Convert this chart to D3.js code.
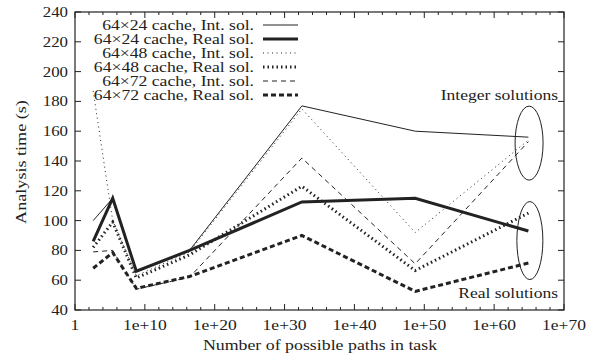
<!DOCTYPE html>
<html><head><meta charset="utf-8">
<script src="https://cdn.jsdelivr.net/npm/d3@7"></script>
</head><body style="margin:0">
<svg id="c" width="595" height="359"></svg>
<script>
// Data
const paths = [4e2, 2.5e5, 6e8, 2.5e16, 3e32, 5e48, 8e64];
const int24  = [100, 115, 66, 80, 177, 160, 156];
const real24 = [86, 115, 66, 80, 112.5, 115, 93];
const int48  = [187, 100, 63, 79, 175, 92, 154];
const real48 = [82, 99, 61.5, 77, 123, 66.5, 105];
const int72  = [79, 80, 54, 62, 142, 71, 153];
const real72 = [68, 78.5, 54.5, 62.5, 90, 52.5, 71.5];
const seriesNames = ["64\u00d724 cache, Int. sol.","64\u00d724 cache, Real sol.","64\u00d748 cache, Int. sol.","64\u00d748 cache, Real sol.","64\u00d772 cache, Int. sol.","64\u00d772 cache, Real sol."];
const yTicks = [40,60,80,100,120,140,160,180,200,220,240];
const xTickExp = [0,10,20,30,40,50,60,70];
const xTickLabels = ["1","1e+10","1e+20","1e+30","1e+40","1e+50","1e+60","1e+70"];
const annotations = ["Integer solutions","Real solutions"];

const styles = [
  {w:1, dash:null},
  {w:3, dash:null},
  {w:1, dash:"1,3.5"},
  {w:3, dash:"1.5,3"},
  {w:1, dash:"5,4"},
  {w:3, dash:"5,3"}
];
const allSeries = [int24, real24, int48, real48, int72, real72];

const svg = d3.select("#c");
const L=75, R=564, T=12, B=310;
const x = d3.scaleLog().domain([1,1e70]).range([L,R]);
const y = d3.scaleLinear().domain([40,240]).range([B,T]);
const ink="#222";
const fontName = "Liberation Serif";

function txt(px,py,str,anchor,size,rot,sx){
  const s = sx || 1.21;
  return svg.append("text")
    .attr("transform",`translate(${px},${py})${rot?` rotate(${rot})`:""} scale(${s},1)`)
    .attr("text-anchor",anchor)
    .style("font-family",`"${fontName}"`).style("font-size",size+"px").style("fill",ink)
    .text(str);
}

svg.append("rect").attr("x",L).attr("y",T).attr("width",R-L).attr("height",B-T)
  .attr("fill","none").attr("stroke",ink).attr("stroke-width",1.2);

const fs=14.5;
yTicks.forEach(v=>{
  svg.append("line").attr("x1",L).attr("x2",L+6).attr("y1",y(v)).attr("y2",y(v)).attr("stroke",ink);
  svg.append("line").attr("x1",R).attr("x2",R-6).attr("y1",y(v)).attr("y2",y(v)).attr("stroke",ink);
  txt(L-7, y(v)+5, String(v), "end", fs, 0, 1.16);
});
for(let e=0;e<=70;e+=2){
  const major = e%10===0;
  const len = major?6:3;
  const px = x(Math.pow(10,e));
  svg.append("line").attr("x1",px).attr("x2",px).attr("y1",B).attr("y2",B-len).attr("stroke",ink);
  svg.append("line").attr("x1",px).attr("x2",px).attr("y1",T).attr("y2",T+len).attr("stroke",ink);
}
xTickExp.forEach((e,i)=>{
  txt(x(Math.pow(10,e)), B+20, xTickLabels[i], "middle", fs);
});
txt(320, 350, "Number of possible paths in task", "middle", fs, 0, 1.23);
txt(26, 162, "Analysis time (s)", "middle", fs, -90, 1.25);

const line = d3.line().x((d,i)=>x(paths[i])).y(d=>y(d));
allSeries.forEach((s,k)=>{
  svg.append("path").attr("d",line(s)).attr("fill","none").attr("stroke",ink)
    .attr("stroke-width",styles[k].w).attr("stroke-dasharray",styles[k].dash)
    .attr("stroke-linejoin","miter");
});

seriesNames.forEach((n,k)=>{
  const yy = 25 + k*14;
  txt(254, yy+5, n, "end", 14, 0, 1.26);
  svg.append("line").attr("x1",263).attr("x2",298).attr("y1",yy).attr("y2",yy).attr("stroke",ink)
    .attr("stroke-width",styles[k].w).attr("stroke-dasharray",styles[k].dash);
});

svg.append("ellipse").attr("cx",x(1e65)).attr("cy",y(152)).attr("rx",14).attr("ry",37)
  .attr("fill","none").attr("stroke",ink);
svg.append("ellipse").attr("cx",x(1.3e65)).attr("cy",y(86.6)).attr("rx",13).attr("ry",39)
  .attr("fill","none").attr("stroke",ink);
txt(558, 100, annotations[0], "end", fs);
txt(558, 298, annotations[1], "end", fs);
</script>
</body></html>
